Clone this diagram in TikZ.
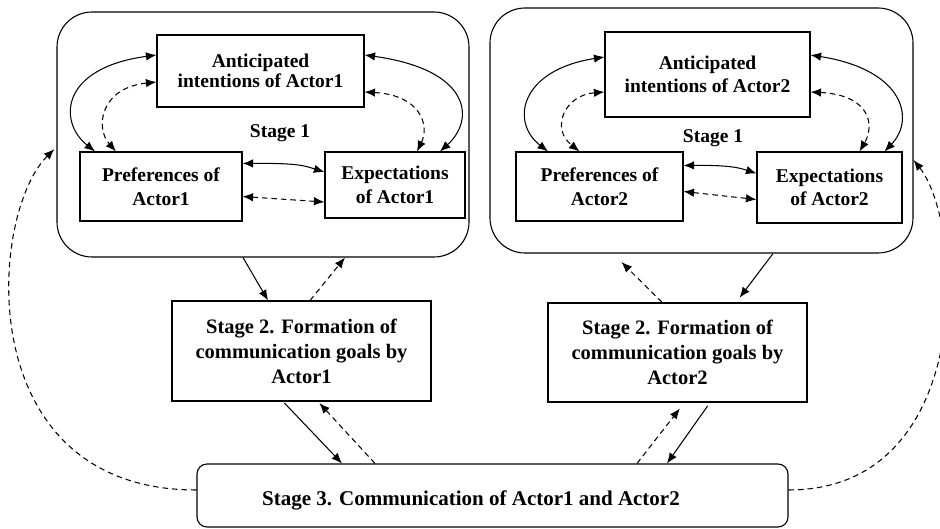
\documentclass[tikz,border=0pt]{standalone}
\usepackage{fontspec}
\setmainfont{Liberation Serif}
\usetikzlibrary{arrows.meta,calc}
\begin{document}
\begin{tikzpicture}[x=1pt,y=-1pt,
  >={Latex[length=10.5pt,width=8.5pt]},
  txt/.style={font=\bfseries\fontsize{19.5}{23.5}\selectfont,inner sep=0pt,align=center},
  box/.style 2 args={draw,line width=1.1pt,minimum width=#1,minimum height=#2,txt},
  big/.style 2 args={draw,line width=1.1pt,rounded corners=35pt,minimum width=#1,minimum height=#2,inner sep=0pt},
  con/.style={line width=1.05pt},
  dsh/.style={con,dash pattern=on 5.5pt off 4pt}]
\useasboundingbox (0,0) rectangle (940,529);

% containers
\node[big={412pt}{245pt}] (B1) at (263,134.5) {};
\node[big={423pt}{245pt}] (B2) at (701.5,130.5) {};

% left stage 1
\node[box={207pt}{72pt},font=\bfseries\fontsize{19.5}{20.5}\selectfont] (A1) at (260.5,71) {Anticipated\\intentions of Actor1};
\node[box={162pt}{69pt}] (P1) at (161,186.5) {Preferences of\\Actor1};
\node[box={140pt}{66pt}] (E1) at (395,185) {Expectations\\of Actor1};
\node[txt] (L1) at (280,133) {Stage 1};

% right stage 1
\node[box={205pt}{85pt}] (A2) at (707.5,74.5) {Anticipated\\intentions of Actor2};
\node[box={167pt}{69pt}] (P2) at (599.5,186.5) {Preferences of\\Actor2};
\node[box={145pt}{71pt}] (E2) at (829.5,187.5) {Expectations\\of Actor2};
\node[txt] (L2) at (713,138) {Stage 1};

% stage 2
\node[box={259pt}{100pt},font=\bfseries\fontsize{20.5}{25}\selectfont] (G1) at (301.5,351) {Stage 2. Formation of\\communication goals by\\Actor1};
\node[box={259pt}{99pt},font=\bfseries\fontsize{20.5}{25}\selectfont] (G2) at (677.5,352.5) {Stage 2. Formation of\\communication goals by\\Actor2};

% stage 3
\node[draw,line width=1.1pt,rounded corners=10pt,minimum width=591pt,minimum height=63pt,inner sep=0pt] (S3) at (492.5,495.5) {};
\node[font=\bfseries\fontsize{21}{25}\selectfont,anchor=base west,inner sep=0pt] (S3t) at (262,505) {Stage 3. Communication of Actor1 and Actor2};

% left box connectors
\draw[con,<->] ([yshift=16pt]A1.west) .. controls (60,68) and (58,122) .. ([xshift=-66pt]P1.north);
\draw[dsh,<->] ([yshift=-11pt]A1.west) .. controls (100,88) and (95,128) .. ([xshift=-45pt]P1.north);
\draw[con,<->] ([yshift=16pt]A1.east) .. controls (472,70) and (475,120) .. ([xshift=45pt]E1.north);
\draw[dsh,<->] ([yshift=-21pt]A1.east) .. controls (420,95) and (430,125) .. ([xshift=22pt]E1.north);
\draw[con,<->] ([yshift=23pt]P1.east) .. controls (300,163) and (305,166) .. ([yshift=13pt]E1.west);
\draw[dsh,<->] ([yshift=-10pt]P1.east) -- ([yshift=-17pt]E1.west);

% right box connectors
\draw[con,<->] ([yshift=17.5pt]A2.west) .. controls (520,70) and (510,122) .. ([xshift=-51.5pt]P2.north);
\draw[dsh,<->] ([yshift=-17.5pt]A2.west) .. controls (565,95) and (550,128) .. ([xshift=-20pt]P2.north);
\draw[con,<->] ([yshift=19.5pt]A2.east) .. controls (905,70) and (915,120) .. ([xshift=55pt]E2.north);
\draw[dsh,<->] ([yshift=-17.5pt]A2.east) .. controls (870,95) and (875,125) .. ([xshift=30pt]E2.north);
\draw[con,<->] ([yshift=21pt]P2.east) .. controls (730,165) and (740,168) .. ([yshift=14pt]E2.west);
\draw[dsh,<->] ([yshift=-5pt]P2.east) -- ([yshift=-12pt]E2.west);

% stage 1 <-> stage 2
\draw[con,->] ([xshift=-20pt]B1.south) -- ([xshift=-33.5pt]G1.north);
\draw[dsh,->] ([xshift=8.5pt]G1.north) -- ([xshift=82pt]B1.south);
\draw[dsh,->,shorten >=12pt] ([xshift=-15.5pt]G2.north) -- ([xshift=-88.5pt]B2.south);
\draw[con,->,shorten >=6pt] ([xshift=71.5pt]B2.south) -- ([xshift=58.5pt]G2.north);

% stage 2 <-> stage 3
\draw[con,->,shorten <=2pt] ([xshift=-18.5pt]G1.south) -- ([xshift=-150.5pt]S3.north);
\draw[dsh,->,shorten >=2pt] ([xshift=-117.5pt]S3.north) -- ([xshift=16.5pt]G1.south);
\draw[dsh,->,shorten >=7.5pt] ([xshift=144.5pt]S3.north) -- ([xshift=7pt]G2.south);
\draw[con,->,shorten <=4pt] ([xshift=32.5pt]G2.south) -- ([xshift=174.5pt]S3.north);

% feedback curves
\draw[dsh,->,shorten >=3pt] ([yshift=5.5pt]S3.west) .. controls (-30,490) and (-12,215) .. ([yshift=-12.5pt]B1.west);
\draw[dsh,->] ([yshift=5.5pt]S3.east) .. controls (975,490) and (965,225) .. ([yshift=-29.5pt]B2.east);
\end{tikzpicture}
\end{document}
